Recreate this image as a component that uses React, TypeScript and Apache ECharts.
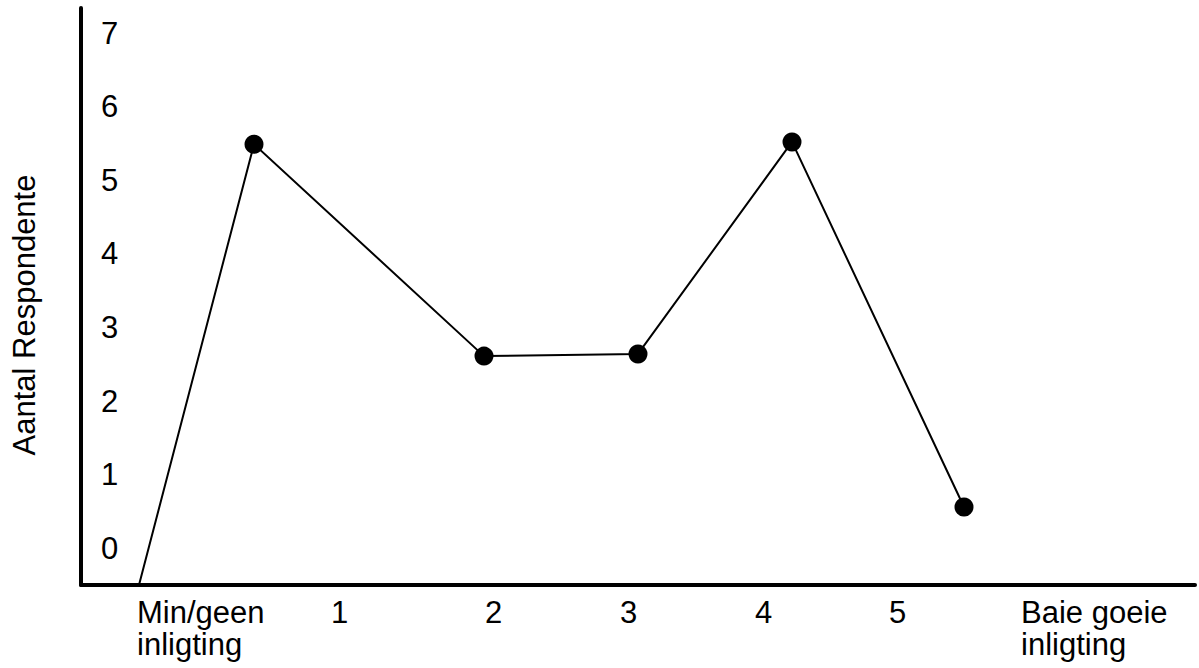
import React, { useEffect, useRef } from "react";
import * as echarts from "echarts";

// Horizontal positions are in axis units (0 = y-axis line)
const pointX = [0.58, 1.73, 4.03, 5.57, 7.11, 8.83];
const respondents = [-0.5, 5.49, 2.61, 2.64, 5.52, 0.56];

const xTickValues = [0.56, 2.5, 4.04, 5.39, 6.74, 8.08, 9.4];
const xTickLabels = [
  "Min/geen\ninligting",
  "1",
  "2",
  "3",
  "4",
  "5",
  "Baie goeie\ninligting",
];
const yTickValues = [0, 1, 2, 3, 4, 5, 6, 7];
const yTitle = "Aantal Respondente";

const FONT = "'Liberation Sans', Arial, sans-serif";

export default function App() {
  const ref = useRef<HTMLDivElement>(null);
  useEffect(() => {
    if (!ref.current) return;
    const chart = echarts.init(ref.current, null, { renderer: "svg" });
    chart.setOption({
      animation: false,
      backgroundColor: "#ffffff",
      textStyle: { fontFamily: FONT },
      grid: { left: 81, right: 4, top: 8, bottom: 83, containLabel: false },
      xAxis: {
        type: "value",
        min: 0,
        max: 11.14,
        axisLine: { show: true, onZero: false, lineStyle: { color: "#000", width: 4 } },
        axisTick: { show: false },
        splitLine: { show: false },
        axisLabel: {
          customValues: xTickValues,
          formatter: (v: number) => {
            let best = xTickLabels[0];
            let d = Infinity;
            xTickValues.forEach((tv, i) => {
              if (Math.abs(tv - v) < d) {
                d = Math.abs(tv - v);
                best = xTickLabels[i];
              }
            });
            return best;
          },
          align: "left",
          margin: 11,
          color: "#000",
          fontSize: 31,
          lineHeight: 32,
          fontFamily: FONT,
          hideOverlap: false,
        },
      },
      yAxis: {
        type: "value",
        min: -0.5,
        max: 7.34,
        axisLine: { show: true, onZero: false, lineStyle: { color: "#000", width: 4 } },
        axisTick: { show: false },
        splitLine: { show: false },
        axisLabel: {
          customValues: yTickValues,
          inside: true,
          margin: 20,
          color: "#000",
          fontSize: 31,
          fontFamily: FONT,
        },
      },
      graphic: [
        {
          type: "text",
          x: 24,
          y: 315,
          rotation: Math.PI / 2,
          style: {
            text: yTitle,
            fontSize: 31,
            fontFamily: FONT,
            fill: "#000",
            align: "center",
            verticalAlign: "middle",
          },
        },
      ],
      series: [
        {
          type: "line",
          data: pointX.map((x, i) =>
            i === 0
              ? { value: [x, respondents[i]], symbol: "none" }
              : { value: [x, respondents[i]] }
          ),
          symbol: "circle",
          symbolSize: 19,
          showSymbol: true,
          clip: false,
          lineStyle: { color: "#000", width: 2 },
          itemStyle: { color: "#000" },
          z: 3,
        },
      ],
    });
    return () => chart.dispose();
  }, []);
  return (
    <div
      ref={ref}
      style={{ position: "absolute", left: 0, top: 0, width: 1199, height: 668 }}
    />
  );
}
